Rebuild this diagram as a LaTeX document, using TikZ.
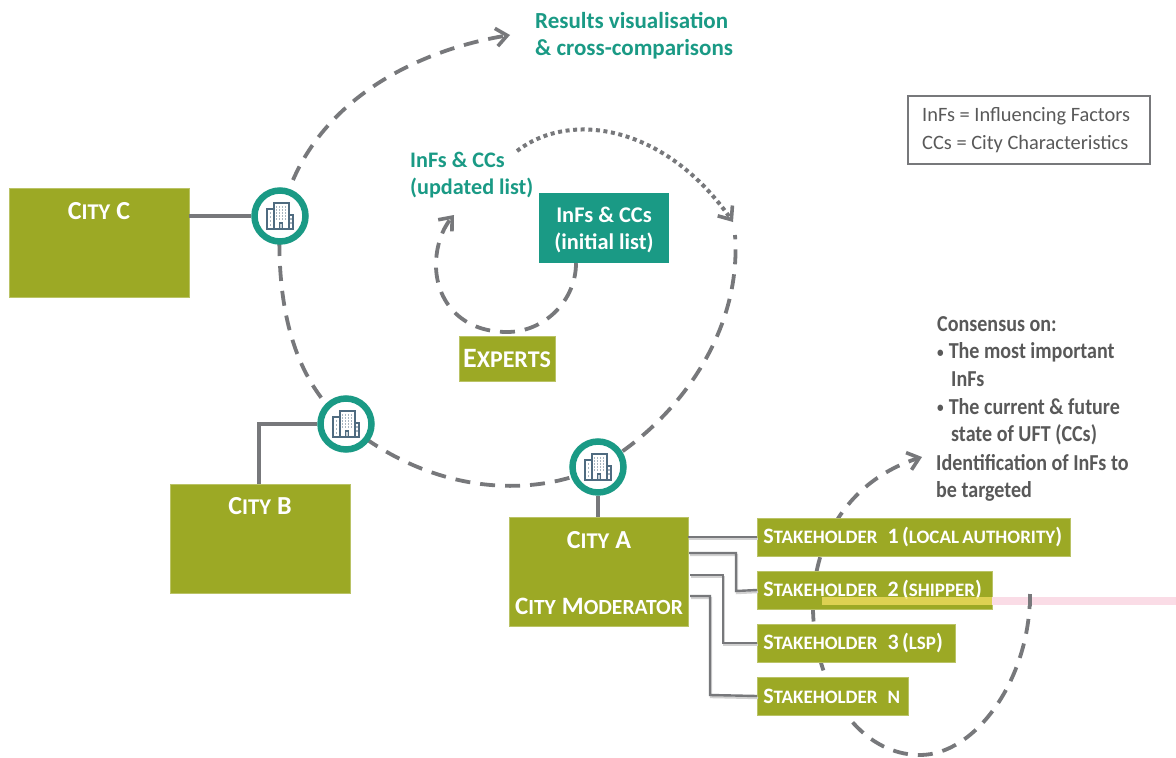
\documentclass[tikz,border=0pt]{standalone}
\usepackage{fontspec}
\setmainfont{Carlito}
\newfontfamily\narrowf[FakeStretch=0.88]{Carlito}
\usetikzlibrary{arrows.meta,shadows}
\definecolor{olive}{HTML}{9CA925}
\definecolor{teal2}{HTML}{1A9A85}
\definecolor{arcgray}{HTML}{77787B}
\definecolor{txtgray}{HTML}{595959}
\definecolor{iconblue}{HTML}{4F6B80}
\definecolor{bandpink}{HTML}{FADCE6}
\definecolor{bandyellow}{HTML}{EEDC5E}
\newcommand{\sz}[1]{\fontsize{#1}{#1}\selectfont}
\newcommand{\Bg}[1]{{\sz{26}#1}}
\newcommand{\Sh}[1]{{\sz{22.5}#1}}
\newcommand{\Bl}{{\sz{15}\raisebox{1.5pt}{•}}\hspace{5pt}}
\newcommand{\SH}{\sz{22}S\sz{19}TAKEHOLDER\hspace{10pt}\sz{22}}
\tikzset{
  box/.style={fill=olive,draw=olive!70!white,line width=.6pt,inner sep=0pt,text=white,font=\bfseries},
  citybox/.style={box,minimum width=180pt,minimum height=109pt},
  stake/.style={box,anchor=west,minimum height=38pt,inner xsep=6pt,align=left},
  arc/.style={draw=arcgray,line width=3.8pt,dash pattern=on 15pt off 10pt},
  tipped/.style={-{Straight Barb[length=11pt,width=18pt,line width=3.6pt]}},
  conn/.style={draw=arcgray,line width=4pt},
  thin conn/.style={draw=arcgray,line width=2.4pt,preaction={draw=black!18,line width=2.4pt,transform canvas={shift={(1pt,-2pt)}}}},
  hub/.style={circle,draw=teal2,fill=white,line width=6.5pt,minimum size=51pt,inner sep=0pt,drop shadow={shadow xshift=1.5pt,shadow yshift=-2.5pt,opacity=.3,fill=black}},
  gtext/.style={text=teal2,font=\bfseries\fontsize{23}{27}\selectfont,align=left,inner sep=0pt},
  graytext/.style={anchor=north west,text=txtgray,font=\bfseries\narrowf\fontsize{22.8}{27.7}\selectfont,inner sep=0pt,align=left},
  pics/bldg/.style={code={
    \draw[iconblue,line width=1.1pt,fill=white] (-13,13) rectangle (-5,-7);
    \draw[iconblue,line width=1.1pt,fill=white] (9,13) rectangle (13,-1);
    \draw[iconblue,line width=1.4pt,fill=white] (-6,13) rectangle (9,-13);
    \draw[iconblue,line width=1.1pt,fill=iconblue!30] (-0.5,13) rectangle (2.5,7);
    \foreach \x in {-3.5,-.5,2.5,5.5}\foreach \y in {-9,-6,-3,0,3}
      \fill[iconblue!50] (\x-.7,\y-.7) rectangle (\x+.7,\y+.7);
    \foreach \y in {-3,1,5,9}\fill[iconblue!50] (-10,\y-.7) rectangle (-8.6,\y+.7);
    \foreach \y in {3,7}\fill[iconblue!50] (10.3,\y-.7) rectangle (11.7,\y+.7);
  }}
}
\begin{document}
\begin{tikzpicture}[x=1pt,y=-1pt]
\useasboundingbox (0,0) rectangle (1176,758);
\fill[white] (0,0) rectangle (1176,758);
% named points
\coordinate (bigend) at (733,222);
\coordinate (bigtop) at (510,35);
\coordinate (topstart) at (293,180);
\coordinate (dotstart) at (517,151);
\coordinate (smalltip) at (454,215);
\coordinate (rstart) at (1030,594);
\coordinate (rtip) at (922,457);
\coordinate (hubA) at (598,467);
\coordinate (hubB) at (346,424);
\coordinate (hubC) at (280,216);
% dashed arcs behind everything
\draw[arc,tipped] (topstart) .. controls (330,95) and (420,50) .. (bigtop);
\draw[arc] (hubC) .. controls (275,320) and (300,385) .. (hubB)
  .. controls (440,500) and (540,495) .. (hubA)
  .. controls (680,420) and (742,330) .. (735,235);
\draw[draw=arcgray,line width=4pt,dash pattern=on 4pt off 3.6pt,tipped] (dotstart) .. controls (570,110) and (665,125) .. (bigend);
\draw[arc,tipped] (rstart) .. controls (1030,680) and (975,755) .. (920,755)
  .. controls (860,755) and (815,690) .. (813,610)
  .. controls (812,540) and (850,480) .. (rtip);
% city boxes
\node[citybox] (cityC) at (99,242.5) {};
\node[citybox] (cityB) at (260,538.5) {};
\node[citybox,minimum width=179pt] (cityA) at (598.5,572) {};
\node[text=white,font=\bfseries,inner sep=0pt] (lc) at (99,211) {\Bg{C}\Sh{ITY}\hspace{6pt}\Bg{C}};
\node[text=white,font=\bfseries,inner sep=0pt] (lb) at (260,506) {\Bg{C}\Sh{ITY}\hspace{6pt}\Bg{B}};
\node[text=white,font=\bfseries,inner sep=0pt] (la) at (599,540) {\Bg{C}\Sh{ITY}\hspace{6pt}\Bg{A}};
\node[text=white,font=\bfseries,inner sep=0pt] (lm) at (599,606) {\sz{25}C\sz{21.6}ITY\hspace{6pt}\sz{25}M\sz{21.6}ODERATOR};
% hubs
\node[hub] (hC) at (hubC) {};
\node[hub] (hB) at (hubB) {};
\node[hub] (hA) at (hubA) {};
\pic at (hubC) {bldg};
\pic at (hubB) {bldg};
\pic at (hubA) {bldg};
% city connectors
\draw[conn] (cityC.east |- hC) -- (hC.west);
\draw[conn] (hB.west) -- (259,424) -- (259,484);
\draw[conn] (hA.south) -- (hA.south |- cityA.north);
% teal box and experts
\node[fill=teal2,text=white,font=\bfseries\fontsize{22.4}{27}\selectfont,align=center,minimum width=130pt,minimum height=70pt,inner sep=0pt] (init) at (604,228) {};
\node[text=white,font=\bfseries\fontsize{22.4}{27}\selectfont,align=center,inner sep=0pt] (initlabel) at (604,230) {InFs \& CCs\\(initial list)};
\node[box,minimum width=96pt,minimum height=45pt] (exp) at (507,358.5) {\sz{28}E\sz{24}XPERTS};
\draw[arc,tipped] (init.south -| 576,0) .. controls (576,300) and (545,332) .. (507,332)
  .. controls (460,332) and (436,300) .. (436,265) .. controls (436,245) and (443,228) .. (smalltip);
% stakeholders
\node[stake,minimum width=313pt,text width=301pt] (s1) at (757,537) {\SH 1 (\sz{19}LOCAL AUTHORITY\sz{22})};
\node[stake,minimum width=235pt,text width=223pt] (s2) at (757,590) {\SH 2 (\sz{19}SHIPPER\sz{22})};
\node[stake,minimum width=198pt,text width=186pt] (s3) at (757,643) {\SH 3 (\sz{19}LSP\sz{22})};
\node[stake,minimum width=151pt,text width=139pt] (sn) at (757,696) {\SH\sz{19}N};
\coordinate (a2) at (689,553);
\coordinate (a3) at (690,575);
\coordinate (a4) at (690,596);
\draw[thin conn] (cityA.east |- s1.west) -- (s1.west);
\draw[thin conn] (a2) -- (736,553) -- (736,591) -- (s2.west);
\draw[thin conn] (a3) -- (723,575) -- (723,643) -- (s3.west);
\draw[thin conn] (a4) -- (710,596) -- (710,695) -- (sn.west);
% highlight band
\fill[bandpink] (992,597) rectangle (1176,604.5);
\fill[bandyellow,opacity=.8] (822,597) rectangle (992,604.5);
\draw[arcgray,line width=3.8pt] (1030,594) -- (1030,606);
% texts
\node[gtext,anchor=north west] (res) at (535,12) {Results visualisation\\\& cross-comparisons};
\node[gtext,anchor=north west,font=\bfseries\fontsize{22.2}{27}\selectfont] (upd) at (410,152) {InFs \& CCs\\(updated list)};
\node[draw=arcgray,line width=1.3pt,minimum width=242pt,minimum height=68pt,inner sep=0pt] (leg) at (1029,130) {};
\node[anchor=west,text=txtgray,font=\fontsize{20.4}{28.5}\selectfont,align=left,inner sep=0pt] (legtext) at (922,130) {InFs = Influencing Factors\\CCs = City Characteristics};
\node[graytext] (cons) at (937,316) {Consensus on:\\\Bl The most important\\\hspace*{14pt}InFs\\\Bl The current \& future\\\hspace*{14pt}state of UFT (CCs)};
\node[graytext] (idn) at (936,454) {Identification of InFs to\\be targeted};
\end{tikzpicture}
\end{document}
